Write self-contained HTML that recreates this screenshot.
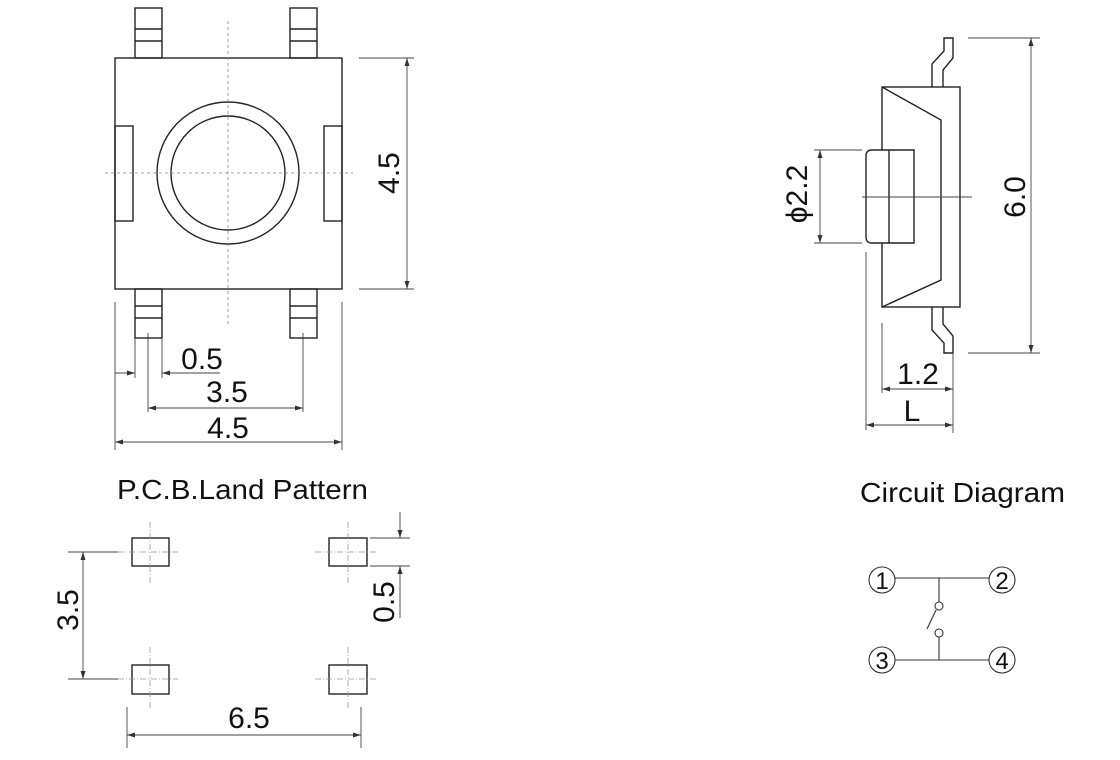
<!DOCTYPE html>
<html><head><meta charset="utf-8"><style>
html,body{margin:0;padding:0;background:#fff;}
svg{display:block;font-family:"Liberation Sans",Arial,sans-serif;}
</style></head><body>
<svg width="1120" height="760" viewBox="0 0 1120 760" xmlns="http://www.w3.org/2000/svg">
<defs>
<marker id="a" markerWidth="8" markerHeight="6" refX="8" refY="3" orient="auto-start-reverse" markerUnits="userSpaceOnUse"><path d="M0,0.5 L8,3 L0,5.5 z" fill="#333"/></marker>
</defs>
<g fill="none" stroke="#222" stroke-width="1.4">
<rect x="115" y="58" width="227" height="231"/>
<rect x="135" y="8" width="27" height="50"/><line x1="135" y1="29" x2="162" y2="29"/><line x1="135" y1="41" x2="162" y2="41"/>
<rect x="290" y="8" width="27" height="50"/><line x1="290" y1="29" x2="317" y2="29"/><line x1="290" y1="41" x2="317" y2="41"/>
<rect x="135" y="289" width="27" height="49"/><line x1="135" y1="306" x2="162" y2="306"/><line x1="135" y1="318" x2="162" y2="318"/>
<rect x="290" y="289" width="27" height="49"/><line x1="290" y1="306" x2="317" y2="306"/><line x1="290" y1="318" x2="317" y2="318"/>
<rect x="115" y="126" width="18" height="95"/>
<rect x="324" y="126" width="18" height="95"/>
<circle cx="228" cy="173" r="71"/>
<circle cx="228" cy="173" r="57"/>
</g>
<g fill="none" stroke="#888" stroke-width="0.8" stroke-dasharray="3,3">
<line x1="228" y1="21" x2="228" y2="326"/>
<line x1="105" y1="173" x2="353" y2="173"/>
</g>
<g fill="none" stroke="#444" stroke-width="0.9">
<line x1="359" y1="58" x2="414" y2="58"/><line x1="359" y1="289" x2="414" y2="289"/>
<line x1="407" y1="58" x2="407" y2="289" marker-start="url(#a)" marker-end="url(#a)"/>
<line x1="135" y1="338" x2="135" y2="378"/><line x1="162" y1="338" x2="162" y2="378"/>
<line x1="115" y1="373" x2="135" y2="373" marker-end="url(#a)"/><line x1="220" y1="373" x2="162" y2="373" marker-end="url(#a)"/>
<line x1="148" y1="333" x2="148" y2="412"/><line x1="303" y1="333" x2="303" y2="412"/>
<line x1="148" y1="408" x2="303" y2="408" marker-start="url(#a)" marker-end="url(#a)"/>
<line x1="115" y1="302" x2="115" y2="450"/><line x1="342" y1="302" x2="342" y2="450"/>
<line x1="115" y1="442" x2="342" y2="442" marker-start="url(#a)" marker-end="url(#a)"/>
</g>
<g fill="#111" font-size="30" text-anchor="middle">
<text x="202" y="369">0.5</text>
<text x="227" y="402">3.5</text>
<text x="228" y="438">4.5</text>
<text transform="translate(399,173) rotate(-90)">4.5</text>
</g>
<g fill="none" stroke="#222" stroke-width="1.4">
<rect x="882" y="87" width="78" height="220"/>
<polyline points="882,87 941,120 941,280 882,307"/>
<polyline points="932,87 932,64 944,51 944,38 953,38 953,58 943,70 943,87"/>
<polyline points="932,307 932,330 944,343 944,353 953,353 953,336 943,324 943,307"/>
<path d="M872,150 L914,150 L914,243 L872,243 Q866,243 866,237 L866,156 Q866,150 872,150 Z" fill="#fff"/>
<line x1="889" y1="150" x2="889" y2="243"/>
</g>
<g fill="none" stroke="#444" stroke-width="0.9">
<line x1="862" y1="197" x2="972" y2="197"/>
<line x1="814" y1="150" x2="862" y2="150"/><line x1="814" y1="243" x2="862" y2="243"/>
<line x1="820" y1="150" x2="820" y2="243" marker-start="url(#a)" marker-end="url(#a)"/>
<line x1="968" y1="38" x2="1040" y2="38"/><line x1="968" y1="353" x2="1040" y2="353"/>
<line x1="1031" y1="38" x2="1031" y2="353" marker-start="url(#a)" marker-end="url(#a)"/>
<line x1="882" y1="323" x2="882" y2="393"/><line x1="953" y1="353" x2="953" y2="433"/>
<line x1="882" y1="389" x2="953" y2="389" marker-start="url(#a)" marker-end="url(#a)"/>
<line x1="866" y1="252" x2="866" y2="430"/>
<line x1="866" y1="425" x2="953" y2="425" marker-start="url(#a)" marker-end="url(#a)"/>
</g>
<g fill="#111" font-size="30" text-anchor="middle">
<text x="918" y="384">1.2</text>
<text x="912" y="421">L</text>
<text transform="translate(1025,197) rotate(-90)">6.0</text>
<text transform="translate(807,194) rotate(-90)">ϕ2.2</text>
</g>
<g fill="#111" font-size="28">
<text x="117" y="499" textLength="251" lengthAdjust="spacingAndGlyphs">P.C.B.Land Pattern</text>
<text x="860" y="502" textLength="205" lengthAdjust="spacingAndGlyphs">Circuit Diagram</text>
</g>
<g fill="none" stroke="#222" stroke-width="1.4">
<rect x="132" y="538" width="37" height="28"/>
<rect x="132" y="665" width="37" height="29"/>
<rect x="329" y="538" width="38" height="28"/>
<rect x="329" y="665" width="38" height="29"/>
</g>
<g fill="none" stroke="#999" stroke-width="0.8" stroke-dasharray="6,2,1,2">
<line x1="118" y1="552" x2="178" y2="552"/><line x1="150" y1="522" x2="150" y2="583"/>
<line x1="118" y1="679" x2="178" y2="679"/><line x1="150" y1="647" x2="150" y2="710"/>
<line x1="315" y1="552" x2="378" y2="552"/><line x1="348" y1="522" x2="348" y2="583"/>
<line x1="315" y1="679" x2="378" y2="679"/><line x1="348" y1="647" x2="348" y2="710"/>
</g>
<g fill="none" stroke="#444" stroke-width="0.9">
<line x1="68" y1="552" x2="118" y2="552"/><line x1="68" y1="679" x2="118" y2="679"/>
<line x1="83" y1="552" x2="83" y2="679" marker-start="url(#a)" marker-end="url(#a)"/>
<line x1="370" y1="538" x2="410" y2="538"/><line x1="370" y1="566" x2="410" y2="566"/>
<line x1="400" y1="512" x2="400" y2="538" marker-end="url(#a)"/>
<line x1="400" y1="618" x2="400" y2="566" marker-end="url(#a)"/>
<line x1="127" y1="707" x2="127" y2="748"/><line x1="361" y1="707" x2="361" y2="748"/>
<line x1="127" y1="735" x2="361" y2="735" marker-start="url(#a)" marker-end="url(#a)"/>
</g>
<g fill="#111" font-size="30" text-anchor="middle">
<text x="249" y="728">6.5</text>
<text transform="translate(78,610) rotate(-90)">3.5</text>
<text transform="translate(394,602) rotate(-90)">0.5</text>
</g>
<g fill="none" stroke="#333" stroke-width="1.1">
<circle cx="882" cy="580" r="13"/><circle cx="1002" cy="580" r="13"/>
<circle cx="882" cy="660" r="13"/><circle cx="1002" cy="660" r="13"/>
<line x1="895" y1="578" x2="989" y2="578"/>
<line x1="895" y1="660" x2="989" y2="660"/>
<line x1="939" y1="578" x2="939" y2="602"/>
<circle cx="939" cy="606" r="4"/>
<line x1="936" y1="610" x2="927" y2="629"/>
<circle cx="939" cy="633" r="4"/>
<line x1="939" y1="637" x2="939" y2="660"/>
</g>
<g fill="#111" font-size="24" text-anchor="middle">
<text x="882" y="589">1</text><text x="1002" y="589">2</text>
<text x="882" y="669">3</text><text x="1002" y="669">4</text>
</g>
</svg>
</body></html>
